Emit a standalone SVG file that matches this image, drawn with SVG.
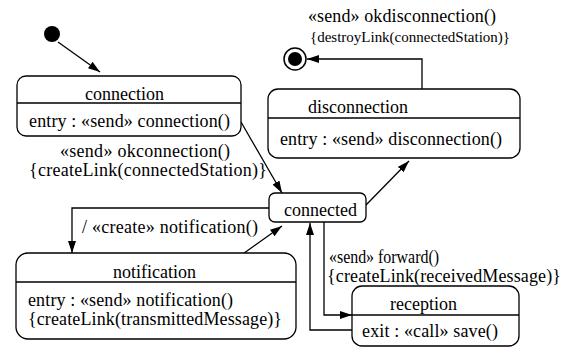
<svg xmlns="http://www.w3.org/2000/svg" width="567" height="347" viewBox="0 0 567 347">
<defs>
<marker id="arr" viewBox="0 0 12 8" refX="12" refY="4" markerWidth="12" markerHeight="8" markerUnits="userSpaceOnUse" orient="auto">
<path d="M0,0 L12,4 L0,8 z" fill="#000"/>
</marker>
<style>
text{font-family:'Liberation Serif','Times New Roman',serif;font-size:18px;fill:#000}
.sm{font-size:15px}
.box{fill:#fff;stroke:#000;stroke-width:1.3}
.div{stroke:#000;stroke-width:1.3}
.edge{fill:none;stroke:#000;stroke-width:1.3;marker-end:url(#arr)}
</style>
</defs>
<rect width="567" height="347" fill="#fff"/>
<g id="connectors">
<path class="edge" d="M58,42 L100,72"/>
<path class="edge" d="M241,122 L282,193"/>
<path class="edge" d="M269,208 L72,208 L72,253"/>
<path class="edge" d="M240,256 L282,226"/>
<path class="edge" d="M366,205 L409,161"/>
<path class="edge" d="M422,89 L422,59 L307,59"/>
<path class="edge" d="M324,222 L324,315 L352,315"/>
<path class="edge" d="M352,330 L310,330 L310,223"/>
</g>
<g id="labels">
<text x="60" y="157" textLength="170">«send» okconnection()</text>
<text x="29" y="176" textLength="238">{createLink(connectedStation)}</text>
<text x="308" y="22" textLength="188">«send» okdisconnection()</text>
<text class="sm" x="310" y="42" textLength="200">{destroyLink(connectedStation)}</text>
<text x="82" y="233" textLength="176">/ «create» notification()</text>
<text x="329" y="263" textLength="110" lengthAdjust="spacingAndGlyphs">«send» forward()</text>
<text x="327" y="282" textLength="234">{createLink(receivedMessage)}</text>
</g>
<g id="initial">
<circle cx="52" cy="34" r="8" fill="#000"/>
</g>
<g id="final">
<circle cx="295" cy="59" r="11" fill="#fff" stroke="#000" stroke-width="1.5"/>
<circle cx="295" cy="59" r="7" fill="#000"/>
</g>
<g id="connection">
<rect class="box" x="17" y="76" width="224" height="60" rx="9"/>
<line class="div" x1="17" y1="103" x2="241" y2="103"/>
<text x="85" y="100">connection</text>
<text x="29" y="127" textLength="201">entry : «send» connection()</text>
</g>
<g id="disconnection">
<rect class="box" x="268" y="89" width="252" height="69" rx="10"/>
<line class="div" x1="268" y1="118" x2="520" y2="118"/>
<text x="308" y="113">disconnection</text>
<text x="280" y="145" textLength="222">entry : «send» disconnection()</text>
</g>
<g id="connected">
<rect class="box" x="269" y="193" width="97" height="29" rx="6"/>
<text x="284" y="216">connected</text>
</g>
<g id="notification">
<rect class="box" x="16" y="253" width="280" height="86" rx="12"/>
<line class="div" x1="16" y1="282" x2="296" y2="282"/>
<text x="113" y="278">notification</text>
<text x="28" y="306" textLength="205">entry : «send» notification()</text>
<text x="28" y="325" textLength="254">{createLink(transmittedMessage)}</text>
</g>
<g id="reception">
<rect class="box" x="352" y="286" width="167" height="60" rx="10"/>
<line class="div" x1="352" y1="315" x2="519" y2="315"/>
<text x="390" y="310">reception</text>
<text x="362" y="337" textLength="136">exit : «call» save()</text>
</g>
</svg>
